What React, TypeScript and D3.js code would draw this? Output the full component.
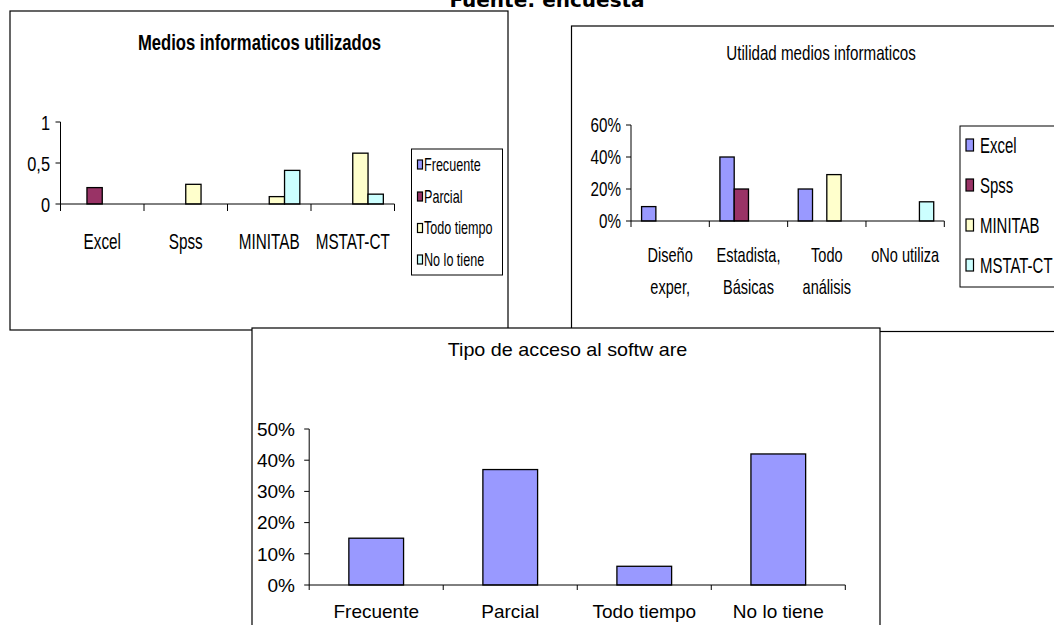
import React from "react";
import * as d3 from "d3";

const FONT = "'Liberation Sans', Arial, Helvetica, sans-serif";

// ---- Chart 1: Medios informaticos utilizados ----
const medCategories = ["Excel", "Spss", "MINITAB", "MSTAT-CT"];
const medSeries = ["Frecuente", "Parcial", "Todo tiempo", "No lo tiene"];
const medFrecuente = [0, 0, 0, 0];
const medParcial = [0.2, 0, 0, 0];
const medTodoTiempo = [0, 0.24, 0.09, 0.62];
const medNoLoTiene = [0, 0, 0.41, 0.12];
const medTicks = [0, 0.5, 1];
const medTickLabels = ["0", "0,5", "1"];

// ---- Chart 2: Utilidad medios informaticos ----
const utilCategories = [["Diseño", "exper,"], ["Estadista,", "Básicas"], ["Todo", "análisis"], ["oNo utiliza"]];
const utilSeries = ["Excel", "Spss", "MINITAB", "MSTAT-CT"];
const utilExcel = [0.09, 0.4, 0.2, 0];
const utilSpss = [0, 0.2, 0, 0];
const utilMinitab = [0, 0, 0.29, 0];
const utilMstat = [0, 0, 0, 0.12];
const utilTicks = [0, 0.2, 0.4, 0.6];
const utilTickLabels = ["0%", "20%", "40%", "60%"];

// ---- Chart 3: Tipo de acceso al software ----
const accesoCategories = ["Frecuente", "Parcial", "Todo tiempo", "No lo tiene"];
const accesoValues = [0.15, 0.37, 0.06, 0.42];
const accesoTicks = [0, 0.1, 0.2, 0.3, 0.4, 0.5];
const accesoTickLabels = ["0%", "10%", "20%", "30%", "40%", "50%"];

const seriesColors = ["#9999FF", "#993366", "#FFFFCC", "#CCFFFF"];

function SText({ x, y, sx = 1, sy = 1, size, anchor = "middle", weight = "normal", family = FONT, children }: any) {
  return (
    <text
      transform={`translate(${x},${y}) scale(${sx},${sy})`}
      fontSize={size}
      textAnchor={anchor}
      fontWeight={weight}
      fontFamily={family}
      fill="#000"
    >
      {children}
    </text>
  );
}

function BarChart(props: any) {
  const {
    box, title, titleX, titleY, titleSize, titleSx, titleWeight,
    categories, series, values, colors, xRange, yDomain, yRange, pad,
    ticks, tickLabels, tickLabelX, tickSize, tickSx,
    catY, catSize, catSx, catLineGap, xTickLen,
    legend,
  } = props;
  const n = categories.length;
  const m = values.length;
  const x0 = d3.scaleBand<number>().domain(d3.range(n)).range(xRange).paddingInner(0).paddingOuter(0);
  const x1 = d3.scaleBand<number>().domain(d3.range(m)).range([0, x0.bandwidth()]).paddingInner(0).paddingOuter(pad);
  const y = d3.scaleLinear().domain(yDomain).range(yRange);
  const y0 = y(0);
  const boundaries = d3.range(n + 1).map((i) => xRange[0] + i * x0.step());
  return (
    <g>
      <rect x={box[0]} y={box[1]} width={box[2]} height={box[3]} fill="#fff" stroke="#000" strokeWidth={1.2} />
      <SText x={titleX} y={titleY} size={titleSize} sx={titleSx} weight={titleWeight}>{title}</SText>
      {values.map((vals: number[], si: number) =>
        vals.map((v: number, ci: number) =>
          v > 0 ? (
            <rect
              key={`b${si}-${ci}`}
              x={(x0(ci) as number) + (x1(si) as number)}
              y={y(v)}
              width={x1.bandwidth()}
              height={y0 - y(v)}
              fill={colors[si]}
              stroke="#000"
              strokeWidth={1.3}
            />
          ) : null
        )
      )}
      <line x1={xRange[0]} x2={xRange[0]} y1={y(ticks[0])} y2={y(ticks[ticks.length - 1])} stroke="#000" strokeWidth={1} />
      {ticks.map((t: number, i: number) => (
        <g key={`yt${i}`}>
          <line x1={xRange[0] - 5} x2={xRange[0]} y1={y(t)} y2={y(t)} stroke="#000" strokeWidth={1} />
          <SText x={tickLabelX} y={y(t) + tickSize * 0.36} size={tickSize} sx={tickSx} anchor="end">{tickLabels[i]}</SText>
        </g>
      ))}
      <line x1={xRange[0]} x2={xRange[1]} y1={y0} y2={y0} stroke="#000" strokeWidth={1} />
      {boundaries.map((bx: number, i: number) => (
        <line key={`xt${i}`} x1={bx} x2={bx} y1={y0} y2={y0 + xTickLen} stroke="#000" strokeWidth={1} />
      ))}
      {categories.map((c: any, i: number) => {
        const lines = Array.isArray(c) ? c : [c];
        const cx = (x0(i) as number) + x0.bandwidth() / 2;
        return lines.map((ln: string, li: number) => (
          <SText key={`c${i}-${li}`} x={cx} y={catY + li * catLineGap + catSize * 0.36} size={catSize} sx={catSx}>{ln}</SText>
        ));
      })}
      {legend ? (
        <g>
          <rect x={legend.box[0]} y={legend.box[1]} width={legend.box[2]} height={legend.box[3]} fill="#fff" stroke="#000" strokeWidth={1} />
          {series.map((s: string, i: number) => (
            <g key={`l${i}`}>
              <rect x={legend.swX} y={legend.ys[i] - legend.swH / 2} width={legend.swW} height={legend.swH} fill={colors[i]} stroke="#000" strokeWidth={1.2} />
              <SText x={legend.textX} y={legend.ys[i] + legend.size * 0.36} size={legend.size} sx={legend.sx} anchor="start">{s}</SText>
            </g>
          ))}
        </g>
      ) : null}
    </g>
  );
}

export default function App() {
  return (
    <svg width={1054} height={625} style={{ position: "absolute", left: 0, top: 0, background: "#fff" }}>
      <rect x={0} y={0} width={1054} height={625} fill="#fff" />
      <SText x={547} y={7} size={20} weight="bold" family="'DejaVu Sans', sans-serif">Fuente: encuesta</SText>

      <BarChart
        box={[10, 11, 498, 319]}
        title="Medios informaticos utilizados" titleX={259.5} titleY={50} titleSize={22.5} titleSx={0.74} titleWeight="bold"
        categories={medCategories} series={medSeries}
        values={[medFrecuente, medParcial, medTodoTiempo, medNoLoTiene]} colors={seriesColors}
        xRange={[60.5, 394.5]} yDomain={[0, 1]} yRange={[204, 122]} pad={0.73}
        ticks={medTicks} tickLabels={medTickLabels} tickLabelX={50} tickSize={21} tickSx={0.78}
        catY={240.5} catSize={22.5} catSx={0.68} catLineGap={31} xTickLen={7}
        legend={{ box: [411.5, 149, 91, 126], ys: [164.5, 196.5, 228, 259.5], swX: 417.5, swW: 5, swH: 9, textX: 424, size: 18, sx: 0.7 }}
      />

      <BarChart
        box={[571.5, 26, 520, 305.5]}
        title="Utilidad medios informaticos" titleX={821} titleY={60} titleSize={20.5} titleSx={0.74} titleWeight="normal"
        categories={utilCategories} series={utilSeries}
        values={[utilExcel, utilSpss, utilMinitab, utilMstat]} colors={seriesColors}
        xRange={[631, 944.3]} yDomain={[0, 0.6]} yRange={[221, 125]} pad={0.74}
        ticks={utilTicks} tickLabels={utilTickLabels} tickLabelX={621} tickSize={19.5} tickSx={0.78}
        catY={255} catSize={20.5} catSx={0.71} catLineGap={31.7} xTickLen={6}
        legend={{ box: [960, 126, 130, 161], ys: [145, 185, 225, 265], swX: 966, swW: 7.5, swH: 12, textX: 980, size: 22, sx: 0.68 }}
      />

      <BarChart
        box={[252, 328, 628, 310]}
        title="Tipo de acceso al softw are" titleX={567.5} titleY={356} titleSize={19} titleSx={1.04} titleWeight="normal"
        categories={accesoCategories} series={["Serie1"]}
        values={[accesoValues]} colors={seriesColors}
        xRange={[309.2, 845.3]} yDomain={[0, 0.5]} yRange={[585, 429]} pad={0.725}
        ticks={accesoTicks} tickLabels={accesoTickLabels} tickLabelX={295} tickSize={19} tickSx={1}
        catY={611} catSize={19} catSx={1} catLineGap={30} xTickLen={5}
      />
    </svg>
  );
}
